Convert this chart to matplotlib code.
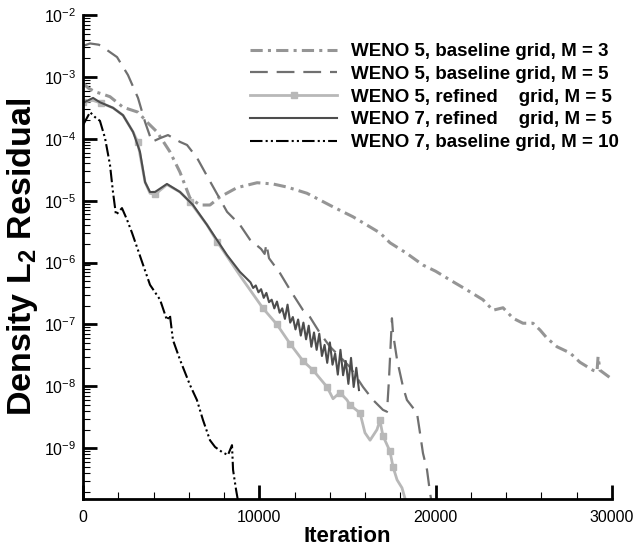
import numpy as np
import matplotlib.pyplot as plt
from matplotlib.ticker import FixedLocator, LogLocator, NullFormatter

plt.rcParams['font.family'] = ['Liberation Sans', 'DejaVu Sans']
plt.rcParams['mathtext.fontset'] = 'custom'
plt.rcParams['mathtext.rm'] = 'Liberation Sans'
plt.rcParams['mathtext.bf'] = 'Liberation Sans:bold'

# ---------------------- DATA (iteration, log10 residual) ----------------------
# WENO 5, baseline grid, M = 3
w5_m3_it = [0, 300, 680, 1130, 1530, 2270, 3120, 3630, 4200, 4930, 5500, 6070, 6640,
            7200, 7770, 8730, 9870, 10770, 11570, 12700, 14180, 15310, 16840, 17410,
            18300, 19280, 20000, 20810, 21700, 22680, 23250, 23820, 24390, 24950,
            25520, 25920, 26310, 26880, 27620, 28180, 28920, 29150, 29210, 29320,
            29890, 30000]
w5_m3_log = [-3.10, -3.18, -3.24, -3.28, -3.32, -3.49, -3.57, -3.73, -3.89, -4.21,
             -4.54, -4.96, -5.07, -5.07, -4.94, -4.79, -4.71, -4.73, -4.78, -4.88,
             -5.10, -5.26, -5.52, -5.68, -5.84, -6.04, -6.14, -6.28, -6.43, -6.60,
             -6.77, -6.73, -6.90, -6.98, -6.98, -7.09, -7.22, -7.36, -7.46, -7.61,
             -7.74, -7.76, -7.52, -7.74, -7.86, -7.90]

# WENO 5, baseline grid, M = 5
w5_m5_it = [0, 400, 900, 1130, 1930, 2550, 3120, 3520, 3910, 4370, 4820, 5500, 5900,
            6470, 7090, 8170, 8900, 9470, 10100, 10300, 10400, 10550, 11170, 11740,
            12480, 12870, 13440, 14010, 14570, 15140, 15880, 16450, 17010, 17240,
            17350, 17520, 17580, 17810, 18150, 18370, 18940, 19110, 19280, 19510,
            19680, 19850]
w5_m5_log = [-2.50, -2.46, -2.48, -2.52, -2.68, -2.97, -3.34, -3.73, -4.05, -3.99,
             -3.94, -4.05, -4.10, -4.31, -4.63, -5.18, -5.39, -5.63, -5.78, -5.86,
             -5.70, -5.93, -6.17, -6.44, -6.77, -6.88, -7.14, -7.36, -7.52, -7.69,
             -8.01, -8.22, -8.38, -8.41, -7.90, -6.90, -7.14, -7.57, -8.01, -8.22,
             -8.43, -8.75, -9.08, -9.35, -9.72, -10.0]

# WENO 5, refined grid, M = 5
w5_ref_it = [0, 560, 1000, 1700, 2270, 2840, 3100, 3520, 3800, 4080, 4760, 5500, 6070,
             7030, 7600, 8170, 9000, 9470, 10210, 11000, 11740, 12480, 13050, 13840,
             14180, 14570, 14970, 15140, 15710, 15990, 16280, 16670, 16840, 17010,
             17410, 17580, 17810, 18090, 18300]
w5_ref_log = [-3.41, -3.38, -3.42, -3.50, -3.62, -3.89, -4.05, -4.70, -4.88, -4.90,
              -4.74, -4.86, -5.02, -5.39, -5.66, -5.90, -6.25, -6.44, -6.74, -7.00,
              -7.31, -7.59, -7.74, -8.01, -8.20, -8.10, -8.22, -8.30, -8.43, -8.75,
              -8.87, -8.70, -8.55, -8.80, -9.05, -9.30, -9.51, -9.64, -9.85]
w5_ref_marks = [0, 2, 6, 9, 12, 14, 18, 19, 20, 21, 22, 23, 25, 27, 28, 32, 33, 34, 35]

# WENO 7, refined grid, M = 5
w7_ref_it = [0, 570, 960, 1700, 2270, 2840, 3230, 3520, 3800, 4080, 4760, 5500, 6240,
             7030, 8170, 8900, 9500, 9650, 9800, 9950, 10100, 10250, 10400, 10550,
             10700, 10850, 11000, 11150, 11300, 11450, 11600, 11750, 11900, 12050,
             12200, 12350, 12500, 12650, 12800, 12950, 13100, 13250, 13400, 13550,
             13700, 13850, 14000, 14150, 14300, 14450, 14600, 14750, 14900, 15050,
             15200, 15350, 15500, 15650]
w7_ref_log = [-3.42, -3.34, -3.41, -3.50, -3.62, -3.89, -4.21, -4.70, -4.86, -4.86,
              -4.73, -4.86, -5.07, -5.39, -5.88, -6.15, -6.32, -6.41, -6.37, -6.48,
              -6.43, -6.57, -6.49, -6.64, -6.60, -6.74, -6.63, -6.81, -6.74, -6.91,
              -6.68, -6.97, -6.88, -7.08, -6.92, -7.18, -6.97, -7.24, -7.02, -7.36,
              -7.13, -7.41, -7.15, -7.51, -7.33, -7.62, -7.29, -7.65, -7.47, -7.81,
              -7.41, -7.82, -7.59, -7.96, -7.54, -8.01, -7.70, -8.06]

# WENO 7, baseline grid, M = 10
w7_m10_it = [0, 400, 680, 960, 1250, 1530, 1700, 1870, 2210, 2500, 2780, 3060, 3350,
             3800, 4370, 4760, 4930, 5100, 5500, 6070, 6460, 6800, 7200, 7490, 7880,
             8220, 8450, 8510, 8680, 8790]
w7_m10_log = [-3.78, -3.57, -3.65, -3.71, -3.99, -4.42, -4.86, -5.23, -5.12, -5.31,
              -5.52, -5.75, -5.99, -6.36, -6.60, -6.93, -6.85, -7.25, -7.57, -7.98,
              -8.22, -8.54, -8.87, -8.98, -9.06, -9.11, -8.95, -9.35, -9.67, -9.85]

labels = ["WENO 5, baseline grid, M = 3",
          "WENO 5, baseline grid, M = 5",
          "WENO 5, refined    grid, M = 5",
          "WENO 7, refined    grid, M = 5",
          "WENO 7, baseline grid, M = 10"]

y_ticks = [-9, -8, -7, -6, -5, -4, -3, -2]
x_ticks = [0, 10000, 20000, 30000]

# ---------------------- PLOT ----------------------
fig = plt.figure(figsize=(6.39, 5.46), dpi=100)
ax = fig.add_axes([83 / 639, 1 - 499 / 546, 529 / 639, 484 / 546])

ax.plot(w5_m3_it, 10.0 ** np.array(w5_m3_log), color='#959595', lw=2.2,
        ls=(0, (4, 1.7, 1, 1.7)), label=labels[0])
ax.plot(w5_m5_it, 10.0 ** np.array(w5_m5_log), color='#707070', lw=1.6,
        ls=(0, (8, 4)), label=labels[1])
ax.plot(w5_ref_it, 10.0 ** np.array(w5_ref_log), color='#b8b8b8', lw=2.0,
        marker='s', ms=5, markevery=w5_ref_marks, label=labels[2])
ax.plot(w7_ref_it, 10.0 ** np.array(w7_ref_log), color='#4d4d4d', lw=1.5,
        label=labels[3])
ax.plot(w7_m10_it, 10.0 ** np.array(w7_m10_log), color='black', lw=1.5,
        ls=(0, (6, 1.5, 1, 1.5, 1, 1.5)), label=labels[4])

ax.set_yscale('log')
ax.set_xlim(0, 30000)
ax.set_ylim(10 ** -9.82, 1e-2)

ax.yaxis.set_major_locator(FixedLocator([10.0 ** k for k in y_ticks]))
ax.yaxis.set_minor_locator(LogLocator(base=10, subs=np.arange(2, 10), numticks=20))
ax.yaxis.set_minor_formatter(NullFormatter())
ax.set_yticklabels([r'$\mathregular{10^{%d}}$' % k for k in y_ticks])
ax.set_xticks(x_ticks)
ax.set_xticklabels([str(v) for v in x_ticks])
ax.xaxis.set_minor_locator(FixedLocator(np.arange(0, 30001, 2000)))

ax.spines['top'].set_visible(False)
ax.spines['right'].set_visible(False)
ax.spines['left'].set_linewidth(2)
ax.spines['bottom'].set_linewidth(2)
ax.tick_params(which='major', direction='in', length=10, width=2, labelsize=11.5, pad=5)
ax.tick_params(which='minor', direction='in', length=5, width=0.8)
ax.tick_params(axis='x', which='major', pad=8)

ax.set_xlabel('Iteration', fontsize=16, fontweight='bold', labelpad=1)
ax.set_ylabel(r'Density L$_\mathbf{2}$ Residual', fontsize=24.5, fontweight='bold', labelpad=3)

fig.legend(loc='upper left', bbox_to_anchor=(250 / 639, 1 - 43 / 546), frameon=False,
           prop={'weight': 'bold', 'size': 13.5}, handlelength=4.64, handletextpad=0.75,
           labelspacing=0.3, borderpad=0, borderaxespad=0)

plt.savefig('out.png', dpi=100)
